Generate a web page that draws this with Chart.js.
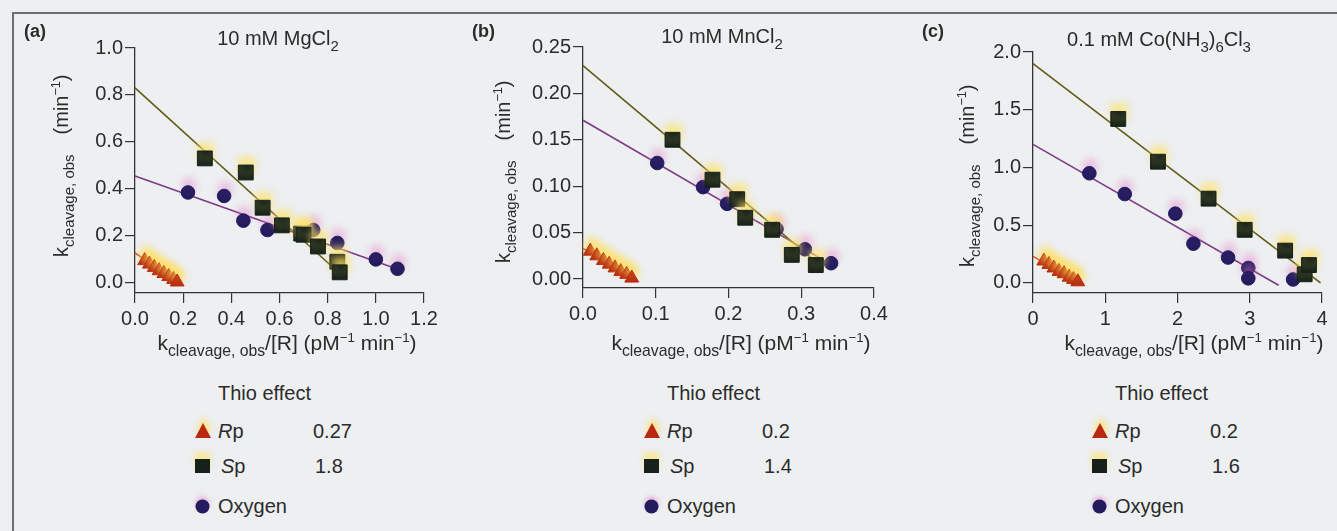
<!DOCTYPE html>
<html>
<head>
<meta charset="utf-8">
<script src="https://cdn.jsdelivr.net/npm/chart.js@4.4.0/dist/chart.umd.min.js"></script>
<style>
  body { margin: 0; width: 1337px; height: 531px; overflow: hidden; position: relative;
         background: #edeff1; font-family: "Liberation Sans", Arial, sans-serif; color: #2b2b2b; }
  .frame { position: absolute; left: 12px; top: 12px; width: 1340px; height: 540px;
           border-top: 2px solid #6e6e6e; border-left: 2px solid #6e6e6e; }
  .panel { position: absolute; top: 0; height: 370px; }
  .lg { position: absolute; font-size: 20px; line-height: 24px; white-space: nowrap; }
  .mk { position: absolute; }
</style>
</head>
<body>
<div class="frame"></div>
<div class="panel" style="left:0;width:450px"><canvas id="ca"></canvas></div>
<div class="panel" style="left:450px;width:450px"><canvas id="cb"></canvas></div>
<div class="panel" style="left:900px;width:437px"><canvas id="cc"></canvas></div>
<div id="legends"></div>

<script>
// ---- panel (a): 10 mM MgCl2 ----
const aRp = [[0.04,0.095],[0.06,0.08],[0.08,0.066],[0.10,0.052],[0.12,0.04],[0.14,0.027],[0.16,0.015],[0.175,0.004]];
const aSp = [[0.29,0.53],[0.46,0.47],[0.53,0.32],[0.61,0.245],[0.69,0.21],[0.70,0.205],[0.76,0.155],[0.84,0.09],[0.85,0.045]];
const aOx = [[0.22,0.385],[0.37,0.37],[0.45,0.265],[0.55,0.225],[0.74,0.225],[0.84,0.17],[1.0,0.10],[1.09,0.06]];
const aRpFit = [[0,0.128],[0.18,0]];
const aSpFit = [[0,0.83],[0.85,0.04]];
const aOxFit = [[0,0.455],[1.1,0.055]];
const aXTicks = [0,0.2,0.4,0.6,0.8,1.0,1.2];
const aXLabels = ['0.0','0.2','0.4','0.6','0.8','1.0','1.2'];
const aYTicks = [0,0.2,0.4,0.6,0.8,1.0];
const aYLabels = ['0.0','0.2','0.4','0.6','0.8','1.0'];

// ---- panel (b): 10 mM MnCl2 ----
const bRp = [[0.01,0.03],[0.019,0.025],[0.028,0.02],[0.036,0.016],[0.044,0.012],[0.052,0.008],[0.06,0.005],[0.067,0.001]];
const bSp = [[0.123,0.15],[0.178,0.107],[0.212,0.086],[0.223,0.066],[0.26,0.053],[0.287,0.026],[0.32,0.015]];
const bOx = [[0.102,0.125],[0.165,0.099],[0.198,0.081],[0.266,0.054],[0.305,0.032],[0.341,0.017]];
const bRpFit = [[0,0.033],[0.07,0]];
const bSpFit = [[0,0.23],[0.33,0.012]];
const bOxFit = [[0,0.171],[0.34,0.016]];
const bXTicks = [0,0.1,0.2,0.3,0.4];
const bXLabels = ['0.0','0.1','0.2','0.3','0.4'];
const bYTicks = [0,0.05,0.10,0.15,0.20,0.25];
const bYLabels = ['0.00','0.05','0.10','0.15','0.20','0.25'];

// ---- panel (c): 0.1 mM Co(NH3)6Cl3 ----
const cRp = [[0.15,0.19],[0.22,0.16],[0.29,0.13],[0.36,0.10],[0.43,0.08],[0.50,0.05],[0.56,0.03],[0.62,0.01]];
const cSp = [[1.18,1.42],[1.73,1.05],[2.43,0.73],[2.93,0.46],[3.49,0.28],[3.76,0.075],[3.82,0.155]];
const cOx = [[0.78,0.95],[1.27,0.77],[1.97,0.60],[2.22,0.34],[2.70,0.22],[2.98,0.13],[2.98,0.04],[3.6,0.03]];
const cRpFit = [[0,0.23],[0.65,0]];
const cSpFit = [[0,1.9],[3.98,0.0]];
const cOxFit = [[0,1.2],[3.4,-0.02]];
const cXTicks = [0,1,2,3,4];
const cXLabels = ['0','1','2','3','4'];
const cYTicks = [0,0.5,1.0,1.5,2.0];
const cYLabels = ['0.0','0.5','1.0','1.5','2.0'];

// thio effect legend values
const thioRp = ['0.27','0.2','0.2'];
const thioSp = ['1.8','1.4','1.6'];

const FONT = '"Liberation Sans", Arial, sans-serif';
const INK = '#2b2b2b';
const RP_COL = '#b8290f', SP_COL = '#15211a', OX_COL = '#221b5e';
const RP_LINE = '#c8452a', SP_LINE = '#615a16', OX_LINE = '#7d3a86';

// rich text: [text, kind] with kind n = normal, b = subscript, p = superscript, g = gap (px)
function setFont(ctx, k, base) {
  const s = k === 'b' ? base * 0.75 : k === 'p' ? base * 0.63 : base;
  ctx.font = s + 'px ' + FONT;
}
function drawRich(ctx, parts, x, y, base) {
  for (const [t, k] of parts) {
    if (k === 'g') { x += t; continue; }
    setFont(ctx, k, base);
    const dy = k === 'b' ? base * 0.28 : k === 'p' ? -base * 0.4 : 0;
    ctx.fillText(t, x, y + dy);
    x += ctx.measureText(t).width;
  }
}
function richWidth(ctx, parts, base) {
  let w = 0;
  for (const [t, k] of parts) {
    if (k === 'g') { w += t; continue; }
    setFont(ctx, k, base);
    w += ctx.measureText(t).width;
  }
  return w;
}

const yTitle = [['k','n'],['cleavage, obs','b'],[20,'g'],['(min','n'],['\u22121','p'],[')','n']];
const xTitle = [['k','n'],['cleavage, obs','b'],['/[R] (pM','n'],['\u22121','p'],[' min','n'],['\u22121','p'],[')','n']];

// draws the panel letter, header and the axis titles
const panelText = {
  id: 'panelText',
  afterDraw(chart, args, o) {
    const ctx = chart.ctx;
    ctx.save();
    ctx.fillStyle = INK;
    ctx.textBaseline = 'alphabetic';
    ctx.font = 'bold 18px ' + FONT;
    ctx.fillText(o.letter, o.letterX, 37);
    // header
    const hw = richWidth(ctx, o.title, 20);
    drawRich(ctx, o.title, o.titleX - hw / 2, o.titleY, 20);
    // x title
    const xw = richWidth(ctx, xTitle, 21);
    drawRich(ctx, xTitle, o.xTitleX - xw / 2, 350, 21);
    // y title, rotated
    ctx.translate(o.yTitleX, o.yTitleY);
    ctx.rotate(-Math.PI / 2);
    drawRich(ctx, yTitle, 0, 0, 20);
    ctx.restore();
  }
};

// soft misregistered ink halo above the markers, as in the printed figure
const halo = {
  id: 'halo',
  beforeDatasetDraw(chart, args) {
    const ds = chart.data.datasets[args.index];
    const ctx = chart.ctx;
    ctx.save();
    if (ds.halo) {
      ctx.shadowColor = ds.halo;
      ctx.shadowBlur = 7;
      ctx.shadowOffsetX = 1;
      ctx.shadowOffsetY = -7;
    }
  },
  afterDatasetDraw(chart) {
    chart.ctx.restore();
  }
};

function pts(arr) { return arr.map(p => ({ x: p[0], y: p[1] })); }

function fitLine(data, color) {
  return { data: pts(data), showLine: true, borderColor: color, borderWidth: 1.6,
           pointRadius: 0, order: 2, clip: false };
}

function markers(data, style, color, radius, halo) {
  return { data: pts(data), pointStyle: style, pointRadius: radius, pointBackgroundColor: color,
           pointBorderColor: color, pointBorderWidth: 1, showLine: false, order: 1, halo: halo, clip: false };
}

function axis(min, max, ticks, labels, fitSize, isX) {
  return {
    type: 'linear', min: min, max: max,
    afterBuildTicks: s => { s.ticks = ticks.map(v => ({ value: v })); },
    afterFit: s => { if (isX) s.height = fitSize; else s.width = fitSize; },
    grid: { display: true, drawOnChartArea: false, drawTicks: true, tickLength: 10, color: '#333', lineWidth: 1.2 },
    border: { display: true, color: '#333', width: 1.3 },
    ticks: { color: INK, font: { family: FONT, size: 20 }, padding: isX ? 4 : 2,
             maxRotation: 0, autoSkip: false, callback: (v, i) => labels[i] }
  };
}

function makePanel(id, w, p) {
  const cv = document.getElementById(id);
  cv.width = w; cv.height = 370;
  cv.style.width = w + 'px'; cv.style.height = '370px';
  return new Chart(cv, {
    type: 'scatter',
    data: {
      datasets: [
        markers(p.rp, 'triangle', RP_COL, 8, 'rgba(255,222,90,0.85)'),
        markers(p.sp, 'rect', SP_COL, 10.5, 'rgba(255,226,100,0.75)'),
        markers(p.ox, 'circle', OX_COL, 6.8, 'rgba(230,120,200,0.4)'),
        fitLine(p.rpFit, RP_LINE),
        fitLine(p.spFit, SP_LINE),
        fitLine(p.oxFit, OX_LINE)
      ]
    },
    options: {
      responsive: false, animation: false,
      layout: { padding: p.pad },
      plugins: { legend: { display: false }, tooltip: { enabled: false }, panelText: p.text },
      scales: {
        x: axis(p.xMin, p.xMax, p.xTicks, p.xLabels, 60, true),
        y: axis(p.yMin, p.yMax, p.yTicks, p.yLabels, p.yWidth, false)
      }
    },
    plugins: [halo, panelText]
  });
}

makePanel('ca', 450, {
  rp: aRp, sp: aSp, ox: aOx, rpFit: aRpFit, spFit: aSpFit, oxFit: aOxFit,
  xMin: 0, xMax: 1.2, xTicks: aXTicks, xLabels: aXLabels,
  yMin: -0.043, yMax: 1.0, yTicks: aYTicks, yLabels: aYLabels,
  yWidth: 135, pad: { left: 0, right: 26, top: 48, bottom: 17 },
  text: { letter: '(a)', letterX: 24, title: [['10 mM MgCl','n'],['2','b']], titleX: 278, titleY: 45,
          xTitleX: 287, yTitleX: 68, yTitleY: 257 }
});
makePanel('cb', 450, {
  rp: bRp, sp: bSp, ox: bOx, rpFit: bRpFit, spFit: bSpFit, oxFit: bOxFit,
  xMin: 0, xMax: 0.4, xTicks: bXTicks, xLabels: bXLabels,
  yMin: -0.0097, yMax: 0.25, yTicks: bYTicks, yLabels: bYLabels,
  yWidth: 133, pad: { left: 0, right: 26, top: 47, bottom: 22 },
  text: { letter: '(b)', letterX: 22, title: [['10 mM MnCl','n'],['2','b']], titleX: 272, titleY: 43,
          xTitleX: 291, yTitleX: 60, yTitleY: 263 }
});
makePanel('cc', 437, {
  rp: cRp, sp: cSp, ox: cOx, rpFit: cRpFit, spFit: cSpFit, oxFit: cOxFit,
  xMin: 0, xMax: 4, xTicks: cXTicks, xLabels: cXLabels,
  yMin: -0.087, yMax: 2.0, yTicks: cYTicks, yLabels: cYLabels,
  yWidth: 133, pad: { left: 0, right: 15, top: 52, bottom: 17 },
  text: { letter: '(c)', letterX: 22, title: [['0.1 mM Co(NH','n'],['3','b'],[')','n'],['6','b'],['Cl','n'],['3','b']],
          titleX: 259, titleY: 46, xTitleX: 294, yTitleX: 74, yTitleY: 267 }
});

// thio-effect legends under each panel (HTML text)
const legendLeft = [195, 644, 1092];
const host = document.getElementById('legends');
legendLeft.forEach((mx, i) => {
  const html = [];
  const txt = (x, yc, s) => html.push(`<div class="lg" style="left:${x}px;top:${yc - 12}px">${s}</div>`);
  txt(mx + 23, 393, 'Thio effect');
  html.push(`<svg class="mk" style="left:${mx}px;top:423px;filter:drop-shadow(1px -6px 3px rgba(255,222,90,0.8))" width="16" height="15"><polygon points="8,0 16,15 0,15" fill="${RP_COL}"/></svg>`);
  txt(mx + 23, 431, '<i>R</i>p');
  txt(mx + 118, 431, thioRp[i]);
  html.push(`<svg class="mk" style="left:${mx}px;top:459px;filter:drop-shadow(0 -6px 3px rgba(255,226,100,0.7))" width="15" height="14"><rect width="15" height="14" fill="${SP_COL}"/></svg>`);
  txt(mx + 26, 466, '<i>S</i>p');
  txt(mx + 120, 466, thioSp[i]);
  html.push(`<svg class="mk" style="left:${mx}px;top:499px;filter:drop-shadow(0 -3px 2px rgba(230,120,200,0.5))" width="15" height="15"><circle cx="7.5" cy="7.5" r="7" fill="${OX_COL}"/></svg>`);
  txt(mx + 23, 506, 'Oxygen');
  host.insertAdjacentHTML('beforeend', html.join(''));
});
</script>
</body>
</html>
